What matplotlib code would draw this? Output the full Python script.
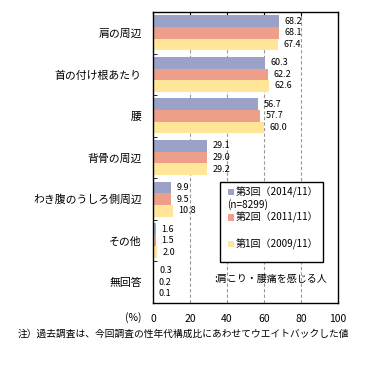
import matplotlib
matplotlib.use("Agg")
import matplotlib.pyplot as plt
from matplotlib.patches import Rectangle
import numpy as np

plt.rcParams['font.family'] = ['Noto Sans CJK JP', 'DejaVu Sans']

categories = ["肩の周辺", "首の付け根あたり", "腰", "背骨の周辺", "わき腹のうしろ側周辺", "その他", "無回答"]
s3 = [68.2, 60.3, 56.7, 29.1, 9.9, 1.6, 0.3]
s2 = [68.1, 62.2, 57.7, 29.0, 9.5, 1.5, 0.2]
s1 = [67.4, 62.6, 60.0, 29.2, 10.8, 2.0, 0.1]
series_labels = ["第3回（2014/11）", "第2回（2011/11）", "第1回（2009/11）"]
n_label = "(n=8299)"
colors = ["#9BA2C8", "#EE9F8A", "#FFE699"]
xticks = [0, 20, 40, 60, 80, 100]

fig = plt.figure(figsize=(3.84, 3.68), dpi=100)
ax = fig.add_axes([153/384, 1-303/368, 185/384, 291/368])

y = np.arange(len(categories))
bh = 0.28
for k, (vals, c) in enumerate(zip([s3, s2, s1], colors)):
    pos = y + (k - 1) * bh
    ax.barh(pos, vals, height=bh, color=c, zorder=2)
    for p, v in zip(pos, vals):
        ax.annotate(f"{v:.1f}", (v, p), xytext=(4, 0), textcoords="offset points",
                    va="center", ha="left", fontsize=6.5, zorder=4)

ax.set_xlim(0, 100)
ax.set_ylim(len(categories) - 0.5, -0.5)
ax.set_xticks(xticks)
ax.set_xticklabels([str(t) for t in xticks], fontsize=7.5)
ax.set_yticks(y)
ax.set_yticklabels(categories, fontsize=7.8)
ax.set_yticks(np.arange(len(categories) + 1) - 0.5, minor=True)
ax.tick_params(axis='y', which='major', length=0, pad=8)
ax.tick_params(axis='y', which='minor', length=3, direction='in', left=True)
ax.tick_params(axis='x', which='major', top=True, bottom=False, direction='in', length=3, pad=8)
for t in [20, 40, 60, 80]:
    ax.axvline(t, color="#999999", linestyle=(0, (3, 2)), linewidth=0.8, zorder=1)
for s in ax.spines.values():
    s.set_linewidth(1.0)

# legend box
ax.add_patch(Rectangle((36.2, 3.59), 55.7, 1.92, facecolor="white", edgecolor="black",
                       linewidth=1.0, zorder=3))
rows = [3.83, 4.44, 5.08]
for r, c, lab in zip(rows, colors, series_labels):
    ax.add_patch(Rectangle((40.5, r - 0.08), 3.2, 0.16, facecolor=c, edgecolor="none", zorder=4))
    ax.text(44.8, r, lab, fontsize=7.2, va="center", ha="left", zorder=4)
ax.text(40.0, 4.14, n_label, fontsize=7.2, va="center", ha="left", zorder=4)
ax.text(33.0, 5.92, ":肩こり・腰痛を感じる人", fontsize=7.2, va="center", ha="left", zorder=4)

fig.text(141/384, 1-318/368, "(%)", fontsize=7.5, va="center", ha="right")
fig.text(18/384, 1-334/368, "注）過去調査は、今回調査の性年代構成比にあわせてウエイトバックした値",
         fontsize=7, va="center", ha="left")

fig.savefig("out.png", dpi=100)
